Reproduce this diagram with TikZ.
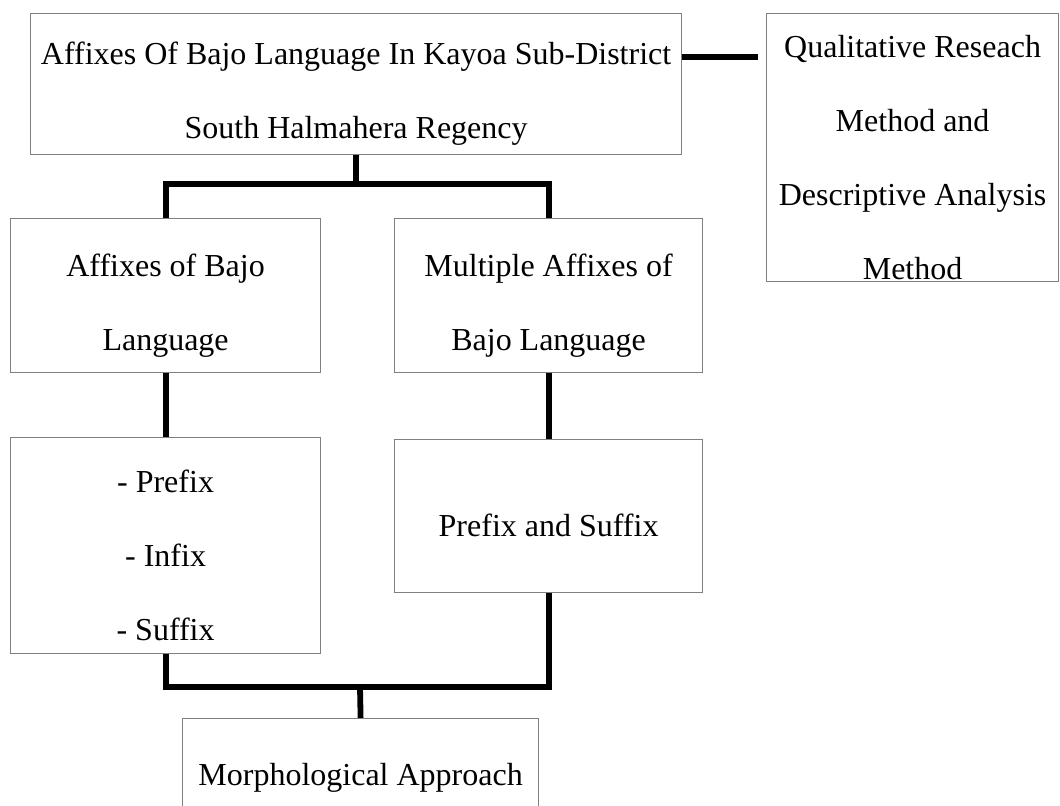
\documentclass[tikz,border=0pt]{standalone}
\usepackage{fontspec}
\setmainfont{Liberation Serif}
\newcommand{\padtop}{\rule{0pt}{21pt}}
\begin{document}
\begin{tikzpicture}[x=0.5pt, y=-0.5pt,
    box/.style={draw=gray, line width=0.6pt, rectangle, anchor=north west,
      inner sep=0pt, align=center, font=\fontsize{16}{37}\selectfont},
    link/.style={line width=2.9pt}]
    \useasboundingbox (0,0) rectangle (1060,806);
    % boxes
    \node[box, minimum width=325.5pt, minimum height=70.5pt] (title) at (30,13)
      {\padtop Affixes Of Bajo Language In Kayoa Sub-District\\South Halmahera Regency};
    \node[box, minimum width=146pt, minimum height=134pt] (method) at (766,13)
      {\padtop Qualitative Reseach\\Method and\\Descriptive Analysis\\Method};
    \node[box, minimum width=155pt, minimum height=77pt] (affix) at (10,218)
      {\padtop Affixes of Bajo\\Language};
    \node[box, minimum width=154pt, minimum height=77pt] (multi) at (394,218)
      {\padtop Multiple Affixes of\\Bajo Language};
    \node[box, minimum width=155pt, minimum height=108pt] (types) at (10,437)
      {\padtop - Prefix\\- Infix\\- Suffix};
    \node[box, minimum width=154pt, minimum height=76.5pt] (presuf) at (394,439)
      {\padtop Prefix and Suffix};
    \node[box, minimum width=178pt, minimum height=49pt] (morph) at (182,718)
      {\padtop Morphological Approach};
    % connectors
    \path (title.north east) ++(0,44) coordinate (tm);
    \path (tm -| method.west) ++(-8,0) coordinate (me);
    \coordinate (split) at (356,184);
    \coordinate (join) at (360,687);
    \draw[link] (tm) -- (me);
    \draw[link] (title.south) -- (split);
    \draw[link] (affix.north) |- (split) -| (multi.north);
    \draw[link] (affix.south) -- (types.north);
    \draw[link] (multi.south) -- (presuf.north);
    \draw[link] (types.south) |- (join) -| (presuf.south);
    \draw[link] (join) -- (morph.north);
\end{tikzpicture}
\end{document}
